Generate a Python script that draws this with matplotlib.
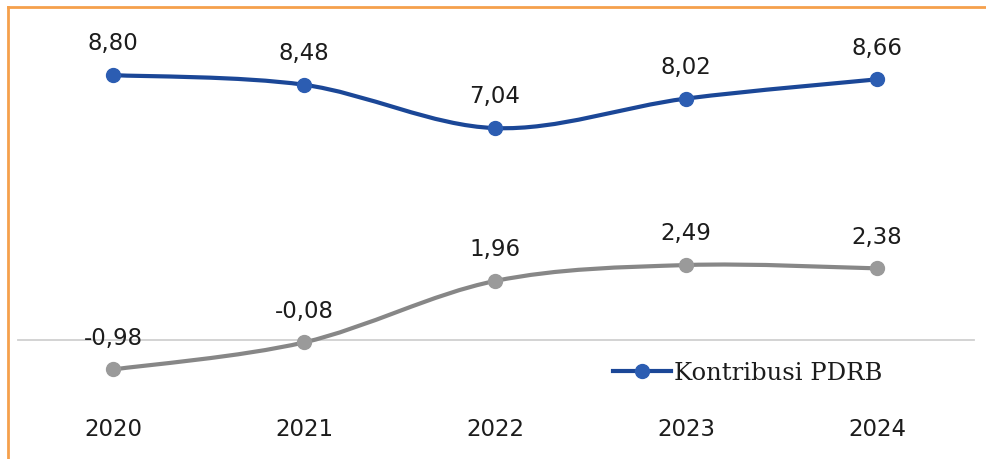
import matplotlib.pyplot as plt
import numpy as np
from matplotlib.lines import Line2D
from matplotlib.path import Path
from matplotlib.patches import PathPatch

years = ["2020", "2021", "2022", "2023", "2024"]
kontribusi = [8.80, 8.48, 7.04, 8.02, 8.66]
pertumbuhan = [-0.98, -0.08, 1.96, 2.49, 2.38]

BLUE = "#1b4797"
BLUE_MK = "#2c5db2"
GRAY = "#878787"
GRAY_MK = "#9a9a9a"
ORANGE = "#f5a04c"
TEXT = "#1c1c1c"

W, H = 987, 459
fig = plt.figure(figsize=(W / 100, H / 100), dpi=100)
ax = fig.add_axes([0, 0, 1, 1])

# pixel layout: x step 191 starting 113, y zero at 340, 30.1 px per unit
x0, dx = 113, 191
y0, dy = 340, 30.1
ax.set_xlim(-x0 / dx, (W - x0) / dx)
ax.set_ylim((y0 - H) / dy, y0 / dy)
ax.axis("off")


def smooth_path(xs, ys):
    pts = np.column_stack([xs, ys])
    verts = [pts[0]]
    codes = [Path.MOVETO]
    n = len(pts)
    for i in range(n - 1):
        p0 = pts[max(i - 1, 0)]
        p1 = pts[i]
        p2 = pts[i + 1]
        p3 = pts[min(i + 2, n - 1)]
        c1 = p1 + (p2 - p0) / 6
        c2 = p2 - (p3 - p1) / 6
        verts += [c1, c2, p2]
        codes += [Path.CURVE4] * 3
    return Path(verts, codes)


xs = np.arange(len(years))

# zero line
ax.axhline(0, xmin=18 / W, xmax=974 / W, color="#d0d0d0", lw=1.3, zorder=1)

for vals, lc, mc in [(pertumbuhan, GRAY, GRAY_MK), (kontribusi, BLUE, BLUE_MK)]:
    ax.add_patch(PathPatch(smooth_path(xs, vals), fill=False, edgecolor=lc,
                           lw=3, capstyle="round", zorder=2))
    ax.plot(xs, vals, ls="none", marker="o", ms=10, color=mc, mec=mc, zorder=3)
    for x, v in zip(xs, vals):
        ax.annotate(f"{v:.2f}".replace(".", ","), (x, v), xytext=(0, 22.5),
                    textcoords="offset points", ha="center", va="center",
                    fontsize=16.5, color=TEXT, family="DejaVu Sans")

for x, yr in zip(xs, years):
    ax.text(x, (y0 - 430) / dy, yr, ha="center", va="center",
            fontsize=16.5, color=TEXT, family="DejaVu Sans")

handle = Line2D([], [], color=BLUE, lw=3, marker="o", ms=10, mfc=BLUE_MK, mec=BLUE_MK)
ax.legend([handle], ["Kontribusi PDRB"], loc="center left",
          bbox_to_anchor=(613 / W, 1 - 373 / H), frameon=False,
          borderpad=0, borderaxespad=0, handlelength=2.4, handletextpad=0.1,
          prop={"family": "DejaVu Serif", "size": 17.5}, labelcolor=TEXT)

# orange frame on top and left
fig.add_artist(Line2D([8 / W, 1], [1 - 7 / H, 1 - 7 / H], color=ORANGE, lw=2))
fig.add_artist(Line2D([8 / W, 8 / W], [0, 1 - 7 / H], color=ORANGE, lw=2))

fig.savefig("out.png", dpi=100)
